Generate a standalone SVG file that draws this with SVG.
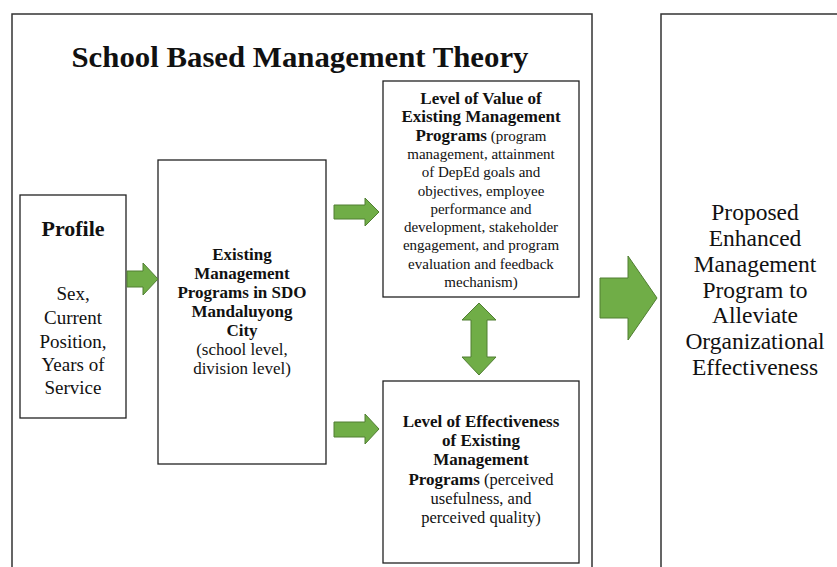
<svg xmlns="http://www.w3.org/2000/svg" width="837" height="567" viewBox="0 0 837 567" font-family="'Liberation Serif', 'Times New Roman', 'DejaVu Serif', serif">
<style>
.box{fill:#fff;stroke:#222;stroke-width:1.3}
.frame{fill:none;stroke:#333;stroke-width:1.5}
.arr{fill:#70ad47;stroke:#507e32;stroke-width:1}
text{font-family:'Liberation Serif','Times New Roman','DejaVu Serif',serif;fill:#111;text-anchor:middle}
.b{font-weight:bold}
</style>
<rect width="837" height="567" fill="#fff"/>
<g id="frame-theory">
<rect class="frame" x="12" y="14" width="580" height="570"/>
<text class="b" x="300" y="67" font-size="30" textLength="457" lengthAdjust="spacingAndGlyphs">School Based Management Theory</text>
</g>
<g id="node-profile">
<rect class="box" x="20" y="195" width="106" height="223"/>
<text class="b" x="73" y="236" font-size="22">Profile</text>
<text x="73" y="300" font-size="19">Sex,</text>
<text x="73" y="324" font-size="19">Current</text>
<text x="73" y="348" font-size="19">Position,</text>
<text x="73" y="371" font-size="19">Years of</text>
<text x="73" y="394" font-size="19">Service</text>
</g>
<g id="node-existing">
<rect class="box" x="158" y="160" width="168" height="304"/>
<g font-size="17">
<text class="b" x="242" y="260">Existing</text>
<text class="b" x="242" y="279">Management</text>
<text class="b" x="242" y="298">Programs in SDO</text>
<text class="b" x="242" y="317">Mandaluyong</text>
<text class="b" x="242" y="336">City</text>
<text x="242" y="355">(school level,</text>
<text x="242" y="374">division level)</text>
</g>
</g>
<g id="node-value">
<rect class="box" x="383" y="81" width="196" height="216"/>
<g font-size="15">
<text class="b" x="481" y="104" font-size="17">Level of Value of</text>
<text class="b" x="481" y="122.3" font-size="17">Existing Management</text>
<text x="481" y="140.6"><tspan font-weight="bold" font-size="17">Programs</tspan> (program</text>
<text x="481" y="158.9">management, attainment</text>
<text x="481" y="177.2">of DepEd goals and</text>
<text x="481" y="195.5">objectives, employee</text>
<text x="481" y="213.8">performance and</text>
<text x="481" y="232.1">development, stakeholder</text>
<text x="481" y="250.4">engagement, and program</text>
<text x="481" y="268.7">evaluation and feedback</text>
<text x="481" y="287">mechanism)</text>
</g>
</g>
<g id="node-effectiveness">
<rect class="box" x="383" y="381" width="196" height="182"/>
<g font-size="16.5">
<text class="b" x="481" y="427" font-size="17">Level of Effectiveness</text>
<text class="b" x="481" y="446" font-size="17">of Existing</text>
<text class="b" x="481" y="465" font-size="17">Management</text>
<text x="481" y="485"><tspan font-weight="bold" font-size="17">Programs</tspan> (perceived</text>
<text x="481" y="504">usefulness, and</text>
<text x="481" y="523">perceived quality)</text>
</g>
</g>
<g id="node-proposed">
<rect class="frame" x="661" y="14" width="190" height="570"/>
<g font-size="23.5">
<text x="755" y="220">Proposed</text>
<text x="755" y="245.8">Enhanced</text>
<text x="755" y="271.7">Management</text>
<text x="755" y="297.5">Program to</text>
<text x="755" y="323.3">Alleviate</text>
<text x="755" y="349.2">Organizational</text>
<text x="755" y="375">Effectiveness</text>
</g>
</g>
<g id="connectors">
<path class="arr" d="M127,271 H143 V263 L158,279 L143,295 V287 H127 Z"/>
<path class="arr" d="M334,205 H365 V198 L379,212 L365,226 V219 H334 Z"/>
<path class="arr" d="M334,422 H365 V414 L379,429 L365,444 V437 H334 Z"/>
<path class="arr" d="M479,303 L496,320 H487 V357 H496 L479,375 L462,357 H471 V320 H462 Z"/>
<path class="arr" d="M600,278 H628 V256 L657,298 L628,340 V318 H600 Z"/>
</g>
</svg>
